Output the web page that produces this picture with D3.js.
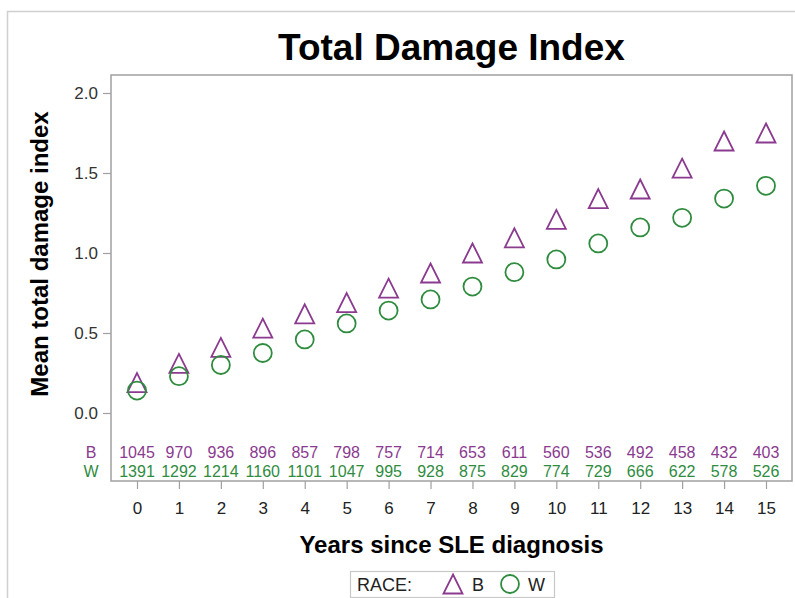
<!DOCTYPE html>
<html>
<head>
<meta charset="utf-8">
<script src="https://cdn.jsdelivr.net/npm/d3@7"></script>
<style>
  body { margin: 0; background: #fff; }
  svg { display: block; font-family: "Liberation Sans", Arial, Helvetica, sans-serif; }
</style>
</head>
<body>
<svg id="chart" width="795" height="598"></svg>
<script>
const years = [0,1,2,3,4,5,6,7,8,9,10,11,12,13,14,15];
const meanB = [0.19,0.31,0.41,0.53,0.62,0.69,0.78,0.875,1.00,1.095,1.21,1.34,1.40,1.53,1.70,1.75];
const meanW = [0.14,0.23,0.30,0.375,0.46,0.56,0.64,0.71,0.79,0.88,0.96,1.06,1.16,1.22,1.34,1.42];
const atRiskB = [1045,970,936,896,857,798,757,714,653,611,560,536,492,458,432,403];
const atRiskW = [1391,1292,1214,1160,1101,1047,995,928,875,829,774,729,666,622,578,526];
const yTicks = [0,0.5,1.0,1.5,2.0];
const raceLabels = ["B","W"];

const purple = "#8a3a8f";
const green = "#2f8c3f";
const svg = d3.select("#chart");
const FF = "Liberation Sans, Arial, sans-serif";

// outer frame
svg.append("rect").attr("x",7.5).attr("y",11.5).attr("width",800).attr("height",600)
  .attr("fill","none").attr("stroke","#d0d0d0").attr("stroke-width",1.5);

const frame = {left:111, top:75, right:792, bottom:481};
const x = d3.scaleLinear().domain([-0.62,15.62]).range([frame.left, frame.right]);
const y = d3.scaleLinear().domain([0,2]).range([413,93]);

// title
svg.append("text").attr("x",(frame.left+frame.right)/2).attr("y",60)
  .attr("text-anchor","middle").attr("font-size",37).attr("font-weight","bold")
  .attr("fill","#000").text("Total Damage Index");

// plot frame
svg.append("rect").attr("x",frame.left).attr("y",frame.top)
  .attr("width",frame.right-frame.left).attr("height",frame.bottom-frame.top)
  .attr("fill","none").attr("stroke","#a0a0a0").attr("stroke-width",1.5);

// y axis
const yAxis = d3.axisLeft(y).tickValues(yTicks).tickFormat(d3.format(".1f")).tickSize(8).tickPadding(5);
const gy = svg.append("g").attr("transform",`translate(${frame.left},0)`).call(yAxis);
gy.select(".domain").remove();
gy.selectAll(".tick line").attr("stroke","#a0a0a0").attr("stroke-width",1.2);
gy.selectAll(".tick text").attr("font-size",17).attr("fill","#333").attr("font-family",FF);

// x axis
const xAxis = d3.axisBottom(x).tickValues(years).tickFormat(d3.format("d")).tickSize(8).tickPadding(13);
const gx = svg.append("g").attr("transform",`translate(0,${frame.bottom})`).call(xAxis);
gx.select(".domain").remove();
gx.selectAll(".tick line").attr("stroke","#a0a0a0").attr("stroke-width",1.2);
gx.selectAll(".tick text").attr("font-size",17).attr("fill","#222").attr("font-family",FF);

// axis labels
svg.append("text").attr("x",(frame.left+frame.right)/2).attr("y",553)
  .attr("text-anchor","middle").attr("font-size",24).attr("font-weight","bold")
  .text("Years since SLE diagnosis");
svg.append("text").attr("transform","translate(48,254) rotate(-90)")
  .attr("text-anchor","middle").attr("font-size",24).attr("font-weight","bold")
  .text("Mean total damage index");

// markers
const triSize = 19;
function triPath(cx, cy){
  const h = triSize, w = triSize;
  return `M${cx},${cy-h/2}L${cx+w/2},${cy+h/2}L${cx-w/2},${cy+h/2}Z`;
}
svg.append("g").selectAll("path").data(years).join("path")
  .attr("d",(d,i)=>triPath(x(d), y(meanB[i])))
  .attr("fill","none").attr("stroke",purple).attr("stroke-width",1.8);
svg.append("g").selectAll("circle").data(years).join("circle")
  .attr("cx",d=>x(d)).attr("cy",(d,i)=>y(meanW[i])).attr("r",9)
  .attr("fill","none").attr("stroke",green).attr("stroke-width",1.8);

// at-risk table
const rowY = [458, 477];
const rows = [atRiskB, atRiskW];
const cols = [purple, green];
rows.forEach((arr, r) => {
  svg.append("g").selectAll("text").data(years).join("text")
    .attr("x",d=>x(d)).attr("y",rowY[r]).attr("text-anchor","middle")
    .attr("font-size",16).attr("fill",cols[r]).text((d,i)=>arr[i]);
  svg.append("text").attr("x",91).attr("y",rowY[r]).attr("text-anchor","middle")
    .attr("font-size",16).attr("fill",cols[r]).text(raceLabels[r]);
});

// legend
const lg = svg.append("g");
lg.append("rect").attr("x",350.5).attr("y",571.5).attr("width",204).attr("height",26)
  .attr("fill","#fff").attr("stroke","#c8c8c8").attr("stroke-width",1.2);
lg.append("text").attr("x",357).attr("y",591).attr("font-size",18).attr("fill","#222").text("RACE:");
lg.append("path").attr("d",triPath(453,584)).attr("fill","none").attr("stroke",purple).attr("stroke-width",1.8);
lg.append("text").attr("x",472).attr("y",591).attr("font-size",18).attr("fill","#222").text(raceLabels[0]);
lg.append("circle").attr("cx",510).attr("cy",584).attr("r",9).attr("fill","none").attr("stroke",green).attr("stroke-width",1.8);
lg.append("text").attr("x",528).attr("y",591).attr("font-size",18).attr("fill","#222").text(raceLabels[1]);
</script>
</body>
</html>
